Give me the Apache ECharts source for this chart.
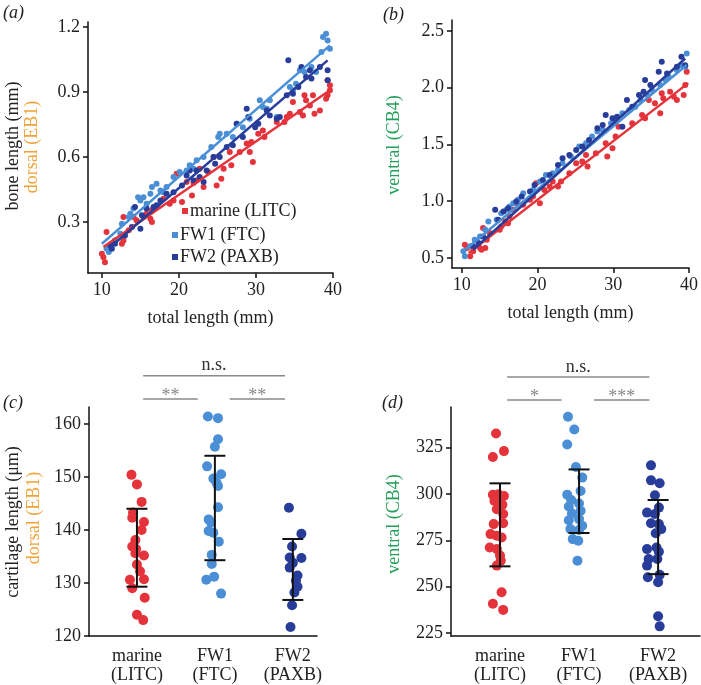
<!DOCTYPE html>
<html>
<head>
<meta charset="utf-8">
<script src="https://cdn.jsdelivr.net/npm/echarts@6/dist/echarts.min.js"></script>
<style>
html,body{margin:0;padding:0;background:#fff;}
#chart{width:701px;height:685px;}
</style>
</head>
<body>
<div id="chart"></div>
<script>
// ---------- DATA ----------
const groupNames = ['marine (LITC)', 'FW1 (FTC)', 'FW2 (PAXB)'];
const categoryLabels = ['marine\n(LITC)', 'FW1\n(FTC)', 'FW2\n(PAXB)'];

// (a) dorsal EB1 bone length (mm) vs total length (mm)
const dorsalMarine = [[10.0,0.154],[10.2,0.138],[10.4,0.115],[10.6,0.254],[11.7,0.215],[12.8,0.323],[12.8,0.215],[12.6,0.2],[13.5,0.262],[14.1,0.323],[14.5,0.308],[15.4,0.323],[15.8,0.338],[16.3,0.315],[16.5,0.3],[16.5,0.354],[17.1,0.369],[18.0,0.408],[18.8,0.385],[19.3,0.4],[19.7,0.523],[20.4,0.392],[21.0,0.485],[21.7,0.423],[21.9,0.48],[22.3,0.492],[22.7,0.546],[23.2,0.462],[23.8,0.531],[24.5,0.6],[24.9,0.469],[25.5,0.5],[25.8,0.546],[26.6,0.623],[26.8,0.562],[27.9,0.623],[28.8,0.662],[29.2,0.623],[29.4,0.669],[29.6,0.577],[30.3,0.708],[30.9,0.723],[31.1,0.692],[32.7,0.762],[33.7,0.762],[34.0,0.785],[34.4,0.8],[34.8,0.854],[35.7,0.808],[36.1,0.792],[36.3,0.885],[36.5,0.862],[37.0,0.838],[37.4,0.885],[37.6,0.8],[38.3,0.815],[39.1,0.869],[39.3,0.954],[39.6,0.931],[39.3,0.885],[39.6,0.908]];
const dorsalFW1 = [[10.6,0.177],[10.9,0.162],[11.3,0.2],[11.7,0.215],[12.4,0.246],[12.6,0.292],[13.5,0.323],[13.7,0.338],[14.1,0.362],[14.7,0.415],[15.0,0.4],[15.4,0.415],[15.8,0.385],[16.3,0.431],[16.5,0.462],[17.1,0.477],[17.6,0.446],[18.0,0.438],[18.4,0.462],[19.3,0.508],[20.1,0.531],[21.0,0.538],[21.4,0.562],[21.9,0.546],[22.3,0.585],[23.2,0.6],[24.2,0.646],[25.1,0.692],[25.3,0.708],[26.2,0.708],[27.0,0.692],[27.5,0.754],[28.3,0.738],[29.2,0.777],[30.5,0.862],[30.9,0.831],[31.4,0.823],[31.8,0.862],[32.7,0.785],[34.4,0.923],[34.8,0.908],[35.2,0.938],[35.7,1.0],[36.3,0.992],[37.2,1.015],[37.8,0.992],[38.5,1.085],[38.7,1.154],[39.1,1.169],[39.3,1.138],[39.6,1.1]];
const dorsalFW2 = [[11.1,0.192],[11.3,0.177],[11.7,0.2],[13.0,0.238],[13.9,0.277],[14.3,0.369],[15.0,0.269],[15.2,0.331],[15.8,0.362],[16.7,0.369],[17.1,0.377],[17.6,0.4],[18.4,0.431],[19.3,0.438],[20.4,0.469],[21.0,0.515],[21.4,0.538],[21.9,0.492],[22.3,0.538],[22.7,0.508],[23.2,0.485],[23.6,0.538],[24.5,0.6],[24.7,0.569],[25.3,0.6],[26.2,0.646],[27.0,0.654],[27.5,0.754],[28.3,0.692],[29.0,0.785],[28.8,0.823],[29.9,0.738],[30.3,0.754],[31.4,0.815],[31.8,0.792],[32.7,0.777],[33.1,0.785],[34.0,0.885],[34.2,1.046],[34.8,0.892],[35.5,0.923],[35.9,1.015],[36.5,0.969],[37.0,1.0],[37.2,0.962],[38.3,1.015],[39.3,1.0],[39.3,0.954]];
// fitted lines (endpoints)
const dorsalFitMarine = [[10.2,0.185],[39.6,0.908]];
const dorsalFitFW1 = [[10.0,0.2],[39.6,1.115]];
const dorsalFitFW2 = [[11.1,0.185],[39.3,1.046]];

// (b) ventral CB4 bone length (mm) vs total length (mm)
const ventralMarine = [[10.4,0.617],[10.7,0.588],[11.1,0.515],[11.5,0.559],[12.4,0.588],[12.6,0.573],[12.8,0.764],[13.1,0.588],[13.3,0.661],[13.7,0.72],[15.0,0.749],[15.2,0.778],[15.7,0.822],[16.1,0.807],[16.3,0.866],[16.8,0.925],[17.2,0.983],[18.1,0.969],[19.0,1.012],[19.4,1.042],[19.8,1.159],[20.3,0.983],[20.9,1.1],[21.6,1.129],[22.0,1.173],[22.7,1.129],[23.1,1.173],[24.2,1.247],[25.1,1.335],[25.9,1.35],[26.4,1.408],[26.6,1.305],[27.7,1.422],[29.0,1.51],[29.2,1.393],[29.9,1.466],[30.3,1.569],[30.7,1.657],[32.5,1.686],[33.8,1.759],[34.2,1.73],[34.7,1.891],[35.5,1.862],[36.2,1.774],[36.4,1.95],[36.6,1.906],[37.5,1.964],[38.0,1.92],[38.4,1.891],[39.3,1.935],[39.5,2.023],[39.7,2.14]];
const ventralFW1 = [[10.2,0.559],[10.4,0.515],[11.1,0.603],[11.7,0.661],[12.4,0.69],[13.1,0.749],[13.5,0.822],[14.6,0.837],[15.2,0.895],[15.9,0.925],[16.3,0.954],[16.8,0.983],[17.4,1.012],[18.1,1.071],[19.4,1.1],[20.3,1.173],[21.1,1.232],[22.0,1.247],[22.7,1.276],[23.3,1.335],[24.4,1.393],[25.5,1.481],[26.4,1.51],[27.2,1.569],[27.9,1.613],[28.6,1.627],[29.7,1.686],[30.3,1.7],[31.2,1.774],[32.1,1.803],[32.9,1.832],[33.6,1.891],[34.5,1.935],[35.1,1.979],[36.2,2.023],[36.9,2.067],[37.3,2.096],[38.4,2.155],[39.0,2.198],[39.7,2.301],[39.5,2.184]];
const ventralFW2 = [[11.5,0.603],[12.2,0.632],[12.8,0.69],[14.4,0.925],[14.8,0.837],[15.5,0.91],[16.1,0.939],[17.2,0.998],[17.9,1.042],[19.0,1.086],[19.6,1.144],[20.7,1.188],[21.6,1.232],[22.7,1.32],[23.3,1.379],[24.2,1.408],[25.1,1.452],[25.9,1.481],[26.8,1.54],[27.9,1.642],[28.6,1.671],[29.0,1.759],[29.9,1.73],[30.5,1.745],[31.2,1.657],[31.8,1.891],[32.5,1.832],[33.4,1.935],[34.0,1.964],[34.2,2.067],[34.9,2.023],[36.0,2.14],[36.4,2.228],[37.1,2.125],[38.4,2.184],[39.0,2.272],[39.5,2.198]];
const ventralFitMarine = [[10.9,0.544],[39.9,2.04]];
const ventralFitFW1 = [[10.2,0.56],[39.7,2.2]];
const ventralFitFW2 = [[11.5,0.573],[39.5,2.257]];

// (c) dorsal EB1 cartilage length (µm), with horizontal jitter
const cartDorsalMarine = [150.4,148.6,145.3,143.3,142.3,141.5,140.0,138.1,136.9,136.4,135.6,135.2,133.5,132.2,130.6,130.7,129.0,127.2,124.0,123.0];
const jitDorsalMarine = [-0.07,0,0.06,-0.05,-0.06,0.09,0.06,-0.02,-0.06,-0.01,-0.02,0.09,0,0.04,-0.09,0.09,-0.06,0.1,0,0.08];
const cartDorsalFW1 = [161.4,161.1,157.1,155.7,152.0,150.5,149.7,148.9,148.3,144.3,142.0,141.4,139.8,139.5,137.8,135.3,133.6,130.6,131.2,128.0];
const jitDorsalFW1 = [-0.09,0.04,0.04,0,-0.1,0.08,-0.02,0.02,0.04,0.04,-0.08,-0.05,-0.08,-0.02,0.05,-0.04,-0.04,-0.11,-0.01,0.08];
const cartDorsalFW2 = [144.2,139.3,136.9,134.8,134.7,133.8,132.9,131.4,130.4,129.3,128.2,125.8,121.7];
const jitDorsalFW2 = [-0.05,0.11,-0.01,-0.04,0.11,0,-0.04,0.06,0.04,0.06,0.02,-0.01,-0.03];
// mean ± SD bars [group, low, high]
const errDorsal = [[1,129.3,144.0],[2,134.3,154.0],[3,126.8,138.3]];

// (d) ventral CB4 cartilage length (µm)
const cartVentralMarine = [332.7,320.0,323.2,299.6,299.9,299.0,296.3,294.2,291.8,289.2,283.8,284.3,278.4,277.5,276.6,271.2,270.3,266.8,264.1,261.4,247.0,240.8,237.5];
const jitVentralMarine = [-0.05,-0.09,0.05,-0.09,-0.02,0.05,-0.07,0.03,-0.04,0.04,-0.08,0.04,-0.12,-0.04,0.02,-0.13,-0.04,0,0.01,-0.04,0.02,-0.09,0.04];
const cartVentralFW1 = [341.7,334.9,326.8,314.6,308.9,299.6,301.7,296.8,294.9,293.3,289.5,291.0,285.9,286.5,282.9,281.1,280.6,275.7,274.8,264.0];
const jitVentralFW1 = [-0.14,-0.06,-0.15,-0.04,0.04,-0.15,0.02,-0.1,0,-0.13,-0.09,0.02,-0.13,0,0.04,-0.11,0,-0.08,-0.01,-0.02];
const cartVentralFW2 = [315.5,307.4,305.8,299.4,292.7,290.0,289.2,284.3,283.8,281.1,278.9,270.3,271.2,268.9,265.0,265.0,261.4,256.4,255.1,252.4,234.1,228.6];
const jitVentralFW2 = [-0.09,-0.09,0.02,-0.04,0.01,-0.14,-0.04,-0.09,0.01,0.04,-0.03,-0.14,-0.02,0.01,-0.12,-0.01,-0.14,0.02,-0.13,0,0,0.02];
const errVentral = [[1,261.0,305.8],[2,279.0,313.3],[3,256.8,296.8]];

// significance brackets
const sigLabels = ['n.s.', '**', '**'];
const sigSpans = [[1.08,2.9],[1.08,1.78],[2.19,2.9]];
const sigLevelsC = [169.1,164.7,164.7];
const sigLabelsD = ['n.s.', '*', '***'];
const sigSpansD = [[1.09,2.89],[1.09,1.78],[2.19,2.89]];
const sigLevelsD = [363.2,350.8,350.8];

const ticksA_x = [10,20,30,40], ticksA_y = [0.3,0.6,0.9,1.2];
const ticksB_y = [0.5,1.0,1.5,2.0,2.5];
const ticksC_y = [120,130,140,150,160];
const ticksD_y = [225,250,275,300,325];

// ---------- STYLE ----------
const FONT = "'Liberation Serif', 'Times New Roman', serif";
const RED = '#e5333b', LBLUE = '#4a8fd6', DBLUE = '#283d9a';
const ORANGE = '#f0a238', GREEN = '#23a05a';
const colors = [RED, LBLUE, DBLUE];

function jitter(vals, jit, g) { return vals.map((v, i) => [g + jit[i], v]); }

function valueAxis(grid, min, max, ticks, fmt, extra) {
  return Object.assign({
    type: 'value', gridIndex: grid, min: min, max: max,
    splitLine: { show: false },
    axisLine: { show: true, onZero: false, lineStyle: { color: '#111', width: 1.5 } },
    axisTick: { show: true, length: 5, customValues: ticks, lineStyle: { color: '#111', width: 1.5 } },
    axisLabel: { customValues: ticks, formatter: fmt, color: '#222', fontFamily: FONT, fontSize: 18, margin: 8 },
    nameTextStyle: { color: '#222', fontFamily: FONT, fontSize: 18 }
  }, extra || {});
}
function catAxis(grid, min, max) {
  return {
    type: 'value', gridIndex: grid, min: min, max: max,
    splitLine: { show: false },
    axisLine: { show: true, onZero: false, lineStyle: { color: '#111', width: 1.5 } },
    axisTick: { show: false },
    axisLabel: { customValues: [1,2,3], formatter: v => categoryLabels[Math.round(v) - 1], color: '#222',
                 fontFamily: FONT, fontSize: 18, lineHeight: 19, margin: 11 }
  };
}
function scat(name, data, xi, size, color) {
  return { type: 'scatter', name: name, xAxisIndex: xi, yAxisIndex: xi, data: data, symbolSize: size,
           itemStyle: { color: color, opacity: 1 }, emphasis: { disabled: true }, z: 2 };
}
function fit(data, xi, color) {
  return { type: 'line', xAxisIndex: xi, yAxisIndex: xi, data: data, symbol: 'none', silent: true,
           lineStyle: { color: color, width: 2.5 }, z: 3 };
}
function errSeries(data, xi) {
  return {
    type: 'custom', xAxisIndex: xi, yAxisIndex: xi, data: data, silent: true, z: 4,
    renderItem: function (params, api) {
      const x = api.value(0);
      const lo = api.coord([x, api.value(1)]), hi = api.coord([x, api.value(2)]);
      const w = 10.5, st = { stroke: '#111', lineWidth: 2 };
      return { type: 'group', children: [
        { type: 'line', shape: { x1: lo[0], y1: lo[1], x2: hi[0], y2: hi[1] }, style: st },
        { type: 'line', shape: { x1: lo[0] - w, y1: lo[1], x2: lo[0] + w, y2: lo[1] }, style: st },
        { type: 'line', shape: { x1: hi[0] - w, y1: hi[1], x2: hi[0] + w, y2: hi[1] }, style: st }
      ]};
    }
  };
}
function sigSeries(spans, levels, labels, xi) {
  return {
    type: 'custom', xAxisIndex: xi, yAxisIndex: xi, clip: false, silent: true, z: 4,
    data: spans.map((s, i) => [s[0], s[1], levels[i]]),
    renderItem: function (params, api) {
      const a = api.coord([api.value(0), api.value(2)]), b = api.coord([api.value(1), api.value(2)]);
      const lab = labels[params.dataIndex];
      const isStar = lab.indexOf('*') >= 0;
      return { type: 'group', children: [
        { type: 'line', shape: { x1: a[0], y1: a[1], x2: b[0], y2: b[1] }, style: { stroke: '#8a8a8a', lineWidth: 1.5 } },
        { type: 'text', x: (a[0] + b[0]) / 2, y: a[1] + (isStar ? -3 : -10),
          style: { text: lab, fill: isStar ? '#888' : '#333', font: '18px ' + FONT, align: 'center', verticalAlign: 'middle' } }
      ]};
    }
  };
}
function vtext(text, x, y, color) {
  return { type: 'text', x: x, y: y, rotation: Math.PI / 2,
           style: { text: text, fill: color, font: '18px ' + FONT, align: 'center', verticalAlign: 'middle' } };
}
function ptext(text, x, y) {
  return { type: 'text', x: x, y: y,
           style: { text: text, fill: '#222', font: 'italic 18px ' + FONT, align: 'left', verticalAlign: 'middle' } };
}
const legendBase = {
  orient: 'vertical', icon: 'rect', itemWidth: 6, itemHeight: 6, itemGap: 0, padding: 0,
  textStyle: { color: '#222', fontFamily: FONT, fontSize: 18, padding: [0, 0, 0, -3] }, selectedMode: false
};

const chart = echarts.init(document.getElementById('chart'), null, { renderer: 'canvas' });
const fmt1 = v => v.toFixed(1);
const fmt0 = v => String(v);
chart.setOption({
  animation: false,
  backgroundColor: '#fff',
  color: colors,
  grid: [
    { left: 88, top: 22, width: 245, height: 251 },
    { left: 452, top: 20, width: 239, height: 248 },
    { left: 89, top: 407, width: 228, height: 230 },
    { left: 451, top: 407, width: 249, height: 230 }
  ],
  xAxis: [
    valueAxis(0, 8.2, 40, ticksA_x, fmt0, { name: 'total length (mm)', nameLocation: 'middle', nameGap: 36 }),
    valueAxis(1, 8.7, 40, ticksA_x, fmt0, { name: 'total length (mm)', nameLocation: 'middle', nameGap: 36 }),
    catAxis(2, 0.385, 3.31),
    catAxis(3, 0.38, 3.53)
  ],
  yAxis: [
    valueAxis(0, 0.065, 1.223, ticksA_y, fmt1),
    valueAxis(1, 0.412, 2.596, ticksB_y, fmt1),
    valueAxis(2, 120, 163.2, ticksC_y, fmt0),
    valueAxis(3, 223.4, 347, ticksD_y, fmt0)
  ],
  legend: [
    Object.assign({}, legendBase, { left: 182, top: 202, data: [groupNames[0]] }),
    Object.assign({}, legendBase, { left: 172, top: 226, data: [groupNames[1]] }),
    Object.assign({}, legendBase, { left: 172, top: 248, data: [groupNames[2]] })
  ],
  graphic: [
    ptext('(a)', 3, 13), ptext('(b)', 383, 15), ptext('(c)', 3, 403), ptext('(d)', 382, 403),
    vtext('bone length (mm)', 13, 146, '#222'), vtext('dorsal (EB1)', 32, 147, ORANGE),
    vtext('ventral (CB4)', 394, 145, GREEN),
    vtext('cartilage length (\u03bcm)', 13, 522, '#222'), vtext('dorsal (EB1)', 34, 518, ORANGE),
    vtext('ventral (CB4)', 394, 524, GREEN)
  ],
  series: [
    scat(groupNames[0], dorsalMarine, 0, 6, RED),
    scat(groupNames[1], dorsalFW1, 0, 6, LBLUE),
    scat(groupNames[2], dorsalFW2, 0, 6, DBLUE),
    fit(dorsalFitMarine, 0, RED), fit(dorsalFitFW1, 0, LBLUE), fit(dorsalFitFW2, 0, DBLUE),

    scat(groupNames[0], ventralMarine, 1, 6, RED),
    scat(groupNames[1], ventralFW1, 1, 6, LBLUE),
    scat(groupNames[2], ventralFW2, 1, 6, DBLUE),
    fit(ventralFitMarine, 1, RED), fit(ventralFitFW1, 1, LBLUE), fit(ventralFitFW2, 1, DBLUE),

    scat(groupNames[0], jitter(cartDorsalMarine, jitDorsalMarine, 1), 2, 10, RED),
    scat(groupNames[1], jitter(cartDorsalFW1, jitDorsalFW1, 2), 2, 10, LBLUE),
    scat(groupNames[2], jitter(cartDorsalFW2, jitDorsalFW2, 3), 2, 10, DBLUE),
    errSeries(errDorsal, 2),
    sigSeries(sigSpans, sigLevelsC, sigLabels, 2),

    scat(groupNames[0], jitter(cartVentralMarine, jitVentralMarine, 1), 3, 10, RED),
    scat(groupNames[1], jitter(cartVentralFW1, jitVentralFW1, 2), 3, 10, LBLUE),
    scat(groupNames[2], jitter(cartVentralFW2, jitVentralFW2, 3), 3, 10, DBLUE),
    errSeries(errVentral, 3),
    sigSeries(sigSpansD, sigLevelsD, sigLabelsD, 3)
  ]
});
</script>
</body>
</html>
